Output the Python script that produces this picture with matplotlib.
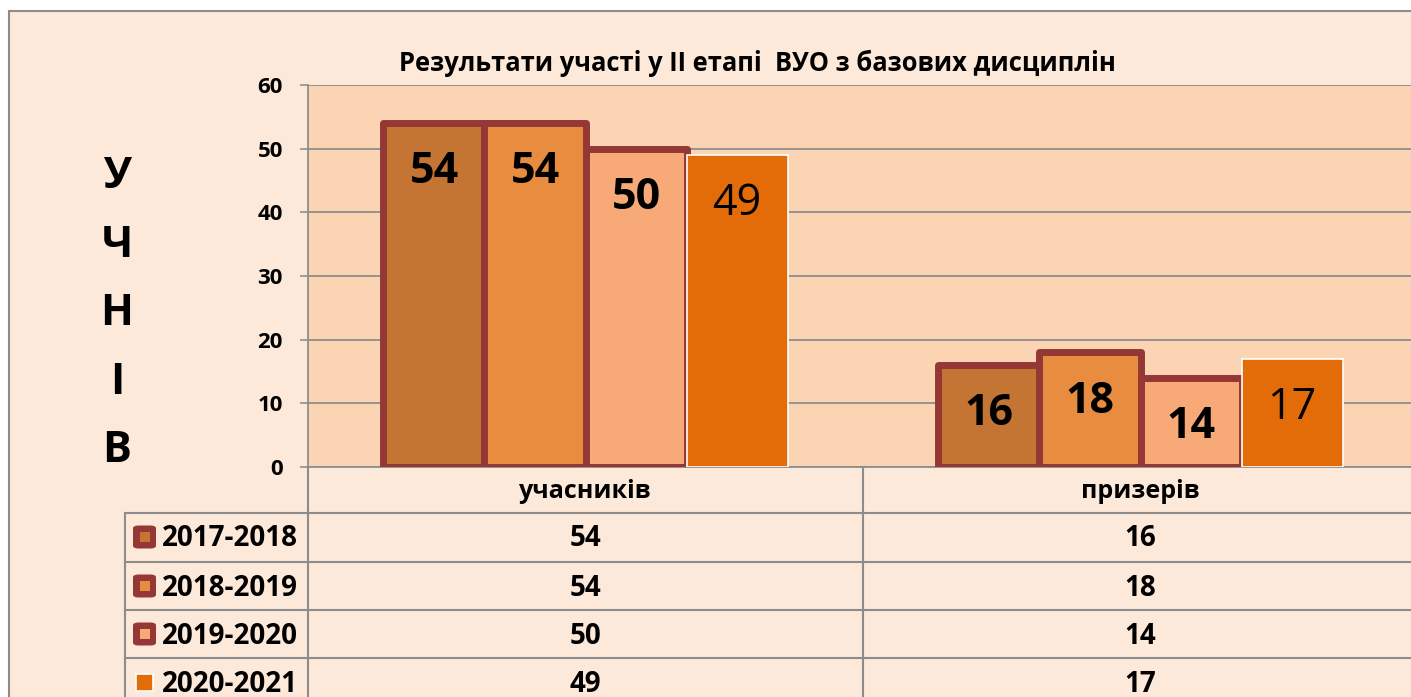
import matplotlib.pyplot as plt
from matplotlib.patches import Rectangle, FancyBboxPatch
from matplotlib.lines import Line2D
import matplotlib.transforms as mtransforms
import numpy as np

plt.rcParams['font.family'] = ['Open Sans', 'DejaVu Sans']

# дані
categories = ['учасників', 'призерів']
years = ['2017-2018', '2018-2019', '2019-2020', '2020-2021']
v2017 = [54, 16]
v2018 = [54, 18]
v2019 = [50, 14]
v2020 = [49, 17]
values = [v2017, v2018, v2019, v2020]
y_ticks = [0, 10, 20, 30, 40, 50, 60]
title = 'Результати участі у ІІ етапі  ВУО з базових дисциплін'
ylabel_letters = ['У', 'Ч', 'Н', 'І', 'В']

colors = ['#C47533', '#E88C40', '#F7AA78', '#E36C09']
edge = '#953735'
grid_c = '#8E8E8E'
outer_bg = '#FDE9D9'
plot_bg = '#FBD4B4'

W, H = 1411, 697
fig = plt.figure(figsize=(W / 100, H / 100), dpi=100)
fig.patch.set_facecolor('white')

def fx(px):
    return px / W

def fy(py):
    return 1 - py / H

# зовнішня рамка
fig.add_artist(Rectangle((fx(9), -0.05), 1.2, fy(11) + 0.05, transform=fig.transFigure,
                         facecolor=outer_bg, edgecolor='#8C8C8C', lw=1.5, zorder=-5))

ax = fig.add_axes([fx(308), fy(467), fx(1411 - 308), fy(85) - fy(467)])
ax.set_facecolor(plot_bg)
ax.set_ylim(0, 60)
ax.set_xlim(-0.5, (1411 - 308) / 555 - 0.5)
ax.set_yticks(y_ticks)
ax.set_yticklabels([str(t) for t in y_ticks], fontsize=16, fontweight='bold')
ax.tick_params(axis='y', length=6, width=1.2, color=grid_c, pad=12)
ax.set_xticks([])
ax.yaxis.grid(True, color=grid_c, lw=1.3)
ax.set_axisbelow(True)
for s in ['top', 'right']:
    ax.spines[s].set_visible(False)
for s in ['left', 'bottom']:
    ax.spines[s].set_color(grid_c)
    ax.spines[s].set_linewidth(1.3)

w = 0.182
x = np.arange(len(categories))
offsets = [-1.5, -0.5, 0.5, 1.5]
for i, (vals, c) in enumerate(zip(values, colors)):
    if i < 3:
        bars = ax.bar(x + offsets[i] * w, vals, w, color=c, edgecolor=edge, lw=5, joinstyle='round', zorder=3)
        fw = 'bold'
    else:
        bars = ax.bar(x + offsets[i] * w, vals, w, color=c, edgecolor='white', lw=1.2, zorder=3)
        fw = 'normal'
    for b, v in zip(bars, vals):
        ax.annotate(str(v), (b.get_x() + b.get_width() / 2, v), xytext=(0, -35), textcoords='offset points',
                    ha='center', va='center', fontsize=31, fontweight=fw, color='black', zorder=5)

fig.text(fx(757), fy(63), title, ha='center', va='center', fontsize=18.4, fontweight='bold')

for k, letter in enumerate(ylabel_letters):
    fig.text(fx(117), fy(177 + k * 68.5), letter, ha='center', va='center', fontsize=31, fontweight='bold')

# таблиця даних
trans = mtransforms.blended_transform_factory(ax.transData, fig.transFigure)
row_lines = [513, 562, 610, 658]
row_centers = [539, 588, 636, 684]
lc = '#8C8C8C'
fig.add_artist(Line2D([fx(308), fx(308)], [fy(467), 0], color=lc, lw=1.5))
fig.add_artist(Line2D([fx(125), fx(125)], [fy(513), 0], color=lc, lw=1.5))
fig.add_artist(Line2D([0.5, 0.5], [fy(467), 0], color=lc, lw=1.5, transform=trans))
for ry in row_lines:
    fig.add_artist(Line2D([fx(125), 1], [fy(ry), fy(ry)], color=lc, lw=1.5))

for ci, cat in enumerate(categories):
    fig.text(x[ci], fy(492), cat, transform=trans, ha='center', va='center', fontsize=18, fontweight='bold')

for i, (yr, vals) in enumerate(zip(years, values)):
    cy = row_centers[i]
    fig.text(fx(162), fy(cy), yr, ha='left', va='center', fontsize=20, fontweight='bold')
    for ci, v in enumerate(vals):
        fig.text(x[ci], fy(cy), str(v), transform=trans, ha='center', va='center', fontsize=20, fontweight='bold')
    kc = cy - 2
    if i < 3:
        fig.add_artist(FancyBboxPatch((fx(133), fy(kc + 11.5)), fx(23), fy(kc - 11.5) - fy(kc + 11.5),
                                      boxstyle='round,pad=0,rounding_size=0.004', transform=fig.transFigure,
                                      facecolor=edge, edgecolor='none'))
        fig.add_artist(Rectangle((fx(140), fy(kc + 5)), fx(10), fy(kc - 5) - fy(kc + 5), transform=fig.transFigure,
                                 facecolor=colors[i], edgecolor='none'))
    else:
        fig.add_artist(Rectangle((fx(136), fy(kc + 8.5)), fx(17), fy(kc - 8.5) - fy(kc + 8.5), transform=fig.transFigure,
                                 facecolor=colors[i], edgecolor='white', lw=1.2))

fig.savefig('out.png', dpi=100)
